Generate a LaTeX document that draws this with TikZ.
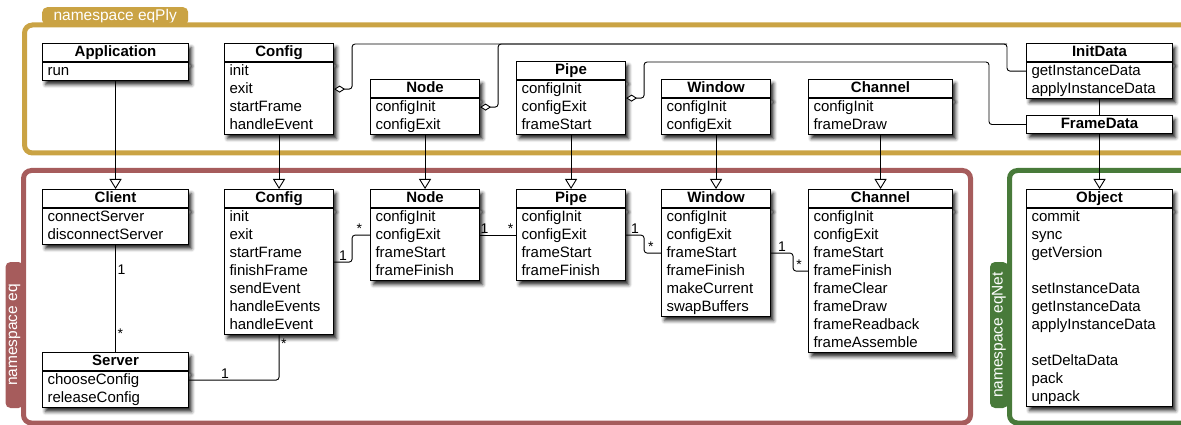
\documentclass[tikz,border=0pt]{standalone}
\usepackage{fontspec}
\setmainfont{Liberation Sans}
\usetikzlibrary{arrows.meta,shadows.blur}
\definecolor{plygold}{RGB}{202,163,68}
\definecolor{eqred}{RGB}{166,92,92}
\definecolor{netgreen}{RGB}{72,122,58}
\newcommand{\ops}[1]{\begin{tabular}{@{}l@{}}#1\end{tabular}}

\begin{document}
\begin{tikzpicture}[x=1pt,y=-1pt,
  shd/.style={blur shadow={shadow xshift=3pt, shadow yshift=-4pt, shadow blur radius=3.5pt, shadow opacity=85}},
  hd/.style={draw, fill=white, line width=1.1pt, anchor=north west, shd, inner xsep=0pt, inner ysep=0pt,
    font=\fontsize{15}{18}\selectfont\bfseries, text height=12.6pt, text depth=5.4pt},
  bd/.style={draw, fill=white, line width=1.1pt, anchor=north west, shd, inner xsep=5pt, inner ysep=0pt,
    align=left, font=\fontsize{15}{18}\selectfont},
  nstab/.style={fill=#1, text=white, font=\fontsize{15.5}{18}\selectfont, minimum width=146pt,
    minimum height=18pt, inner sep=0pt, rounded corners=5pt},
  frm/.style={line width=5pt, rounded corners=8pt},
  inh/.style={line width=0.9pt, -{Triangle[width=12pt, length=10pt, fill=white]}},
  agg/.style={line width=0.9pt, rounded corners=3pt, {Diamond[width=7pt, length=11pt, fill=white]}-},
  asc/.style={line width=0.9pt, rounded corners=3pt},
  lbl/.style={font=\fontsize{14}{15}\selectfont, inner sep=1.5pt}]
\useasboundingbox (0,0) rectangle (1181,425);

% namespaces
\node[nstab=plygold, anchor=north west] at (42,7) (plyTab) {namespace eqPly};
\node[nstab=eqred, rotate=90] at (14.5,335) (eqTab) {namespace eq};
\node[nstab=netgreen, rotate=90] at (999,335) (netTab) {namespace eqNet};
\draw[frm, draw=plygold] (24.5,25) rectangle (1220,153);
\draw[frm, draw=eqred] (23.5,170.5) rectangle (970.5,423);
\draw[frm, draw=netgreen] (1009.5,170.5) rectangle (1220,423);

% eqPly
\node[hd, minimum width=146pt] at (42,43) (app) {Application};
\node[bd, text width=136pt] at (app.south west) (appOps) {\ops{run}};
\node[hd, minimum width=109pt] at (224,43) (plyConfig) {Config};
\node[bd, text width=99pt] at (plyConfig.south west) (plyConfigOps) {\ops{init\\exit\\startFrame\\handleEvent}};
\node[hd, minimum width=109pt] at (370,79) (plyNode) {Node};
\node[bd, text width=99pt] at (plyNode.south west) (plyNodeOps) {\ops{configInit\\configExit}};
\node[hd, minimum width=109pt] at (516,61) (plyPipe) {Pipe};
\node[bd, text width=99pt] at (plyPipe.south west) (plyPipeOps) {\ops{configInit\\configExit\\frameStart}};
\node[hd, minimum width=109pt] at (661,79) (plyWindow) {Window};
\node[bd, text width=99pt] at (plyWindow.south west) (plyWindowOps) {\ops{configInit\\configExit}};
\node[hd, minimum width=144pt] at (808,79) (plyChannel) {Channel};
\node[bd, text width=134pt] at (plyChannel.south west) (plyChannelOps) {\ops{configInit\\frameDraw}};
\node[hd, minimum width=146pt] at (1026,43) (initData) {InitData};
\node[bd, text width=136pt] at (initData.south west) (initDataOps) {\ops{getInstanceData\\applyInstanceData}};
\node[hd, minimum width=146pt] at (1026,115) (frameData) {FrameData};

% eq
\node[hd, minimum width=146pt] at (42,189) (client) {Client};
\node[bd, text width=136pt] at (client.south west) (clientOps) {\ops{connectServer\\disconnectServer}};
\node[hd, minimum width=146pt] at (42,352) (server) {Server};
\node[bd, text width=136pt] at (server.south west) (serverOps) {\ops{chooseConfig\\releaseConfig}};
\node[hd, minimum width=109pt] at (224,189) (config) {Config};
\node[bd, text width=99pt] at (config.south west) (configOps) {\ops{init\\exit\\startFrame\\finishFrame\\sendEvent\\handleEvents\\handleEvent}};
\node[hd, minimum width=109pt] at (370,189) (eqNode) {Node};
\node[bd, text width=99pt] at (eqNode.south west) (eqNodeOps) {\ops{configInit\\configExit\\frameStart\\frameFinish}};
\node[hd, minimum width=109pt] at (516,189) (pipe) {Pipe};
\node[bd, text width=99pt] at (pipe.south west) (pipeOps) {\ops{configInit\\configExit\\frameStart\\frameFinish}};
\node[hd, minimum width=109pt] at (661,189) (window) {Window};
\node[bd, text width=99pt] at (window.south west) (windowOps) {\ops{configInit\\configExit\\frameStart\\frameFinish\\makeCurrent\\swapBuffers}};
\node[hd, minimum width=144pt] at (808,189) (channel) {Channel};
\node[bd, text width=134pt] at (channel.south west) (channelOps) {\ops{configInit\\configExit\\frameStart\\frameFinish\\frameClear\\frameDraw\\frameReadback\\frameAssemble}};

% eqNet
\node[hd, minimum width=146pt] at (1026,189) (object) {Object};
\node[bd, text width=136pt] at (object.south west) (objectOps) {\ops{commit\\sync\\getVersion\\ \\setInstanceData\\getInstanceData\\applyInstanceData\\ \\setDeltaData\\pack\\unpack}};

% inheritance
\draw[inh] (appOps.south) -- (client.north);
\draw[inh] (plyConfigOps.south) -- (config.north);
\draw[inh] (plyNodeOps.south) -- (eqNode.north);
\draw[inh] (plyPipeOps.south) -- (pipe.north);
\draw[inh] (plyWindowOps.south) -- (window.north);
\draw[inh] (plyChannelOps.south) -- (channel.north);
\draw[inh] (frameData.south) -- (object.north);
\draw[asc] (initDataOps.south) -- (frameData.north);

% aggregation
\coordinate (initBend) at (1007,44);
\coordinate (frameBend) at (989,62);
\draw[agg] ([yshift=-27pt]plyConfigOps.north east) -- ++(18,0) |- (initBend) |- ([yshift=-9pt]initDataOps.north west);
\draw[agg] ([yshift=-9pt]plyNodeOps.north east) -- ++(18,0) |- (initBend);
\draw[agg] ([yshift=-18pt]plyPipeOps.north east) -- ++(18,0) |- (frameBend) |- (frameData.west);

% associations
\draw[asc] (clientOps.south) -- node[lbl, right, pos=0.23] {1} node[lbl, right, pos=0.83] {*} (server.north);
\draw[asc] ([yshift=-9pt]serverOps.north east) -| node[lbl, above, pos=0.2] {1} node[lbl, right, pos=0.9] {*} (configOps.south);
\draw[asc] ([yshift=-54pt]configOps.north east) -- node[lbl, above] {1} ++(18,0) |- node[lbl, above, pos=0.7] {*} ([yshift=-27pt]eqNodeOps.north west);
\draw[asc] ([yshift=-27pt]eqNodeOps.north east) -- node[lbl, above, pos=0.12] {1} node[lbl, above, pos=0.85] {*} ([yshift=-27pt]pipeOps.north west);
\draw[asc] ([yshift=-27pt]pipeOps.north east) -- node[lbl, above] {1} ++(18,0) |- node[lbl, above, pos=0.7] {*} ([yshift=-45pt]windowOps.north west);
\draw[asc] ([yshift=-45pt]windowOps.north east) -- node[lbl, above] {1} ++(22,0) |- node[lbl, above, pos=0.7] {*} ([yshift=-63pt]channelOps.north west);
\end{tikzpicture}
\end{document}
